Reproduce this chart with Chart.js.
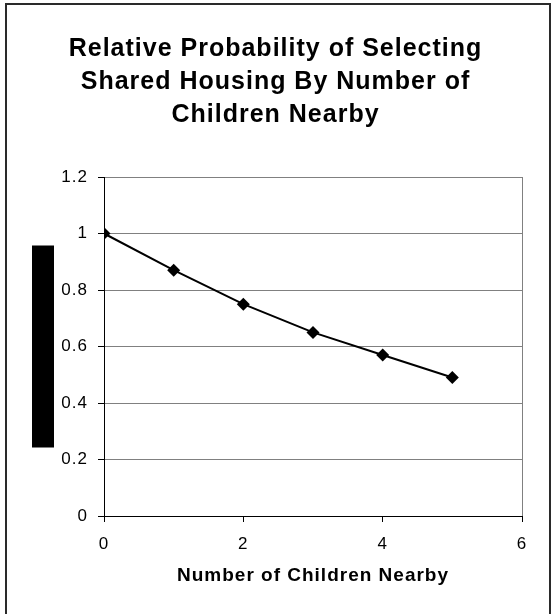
<!DOCTYPE html>
<html><head><meta charset="utf-8">
<script src="https://cdn.jsdelivr.net/npm/chart.js@4/dist/chart.umd.min.js"></script>
<style>html,body{margin:0;padding:0;background:#fff;} canvas{display:block;}</style>
</head><body>
<canvas id="c" width="551" height="614"></canvas>
<script>
// ---- data ----
const titleLines = ['Relative Probability of Selecting', 'Shared Housing By Number of', 'Children Nearby'];
const xAxisTitle = 'Number of Children Nearby';
const childrenNearby = [0, 1, 2, 3, 4, 5];
const relativeProbability = [1.0, 0.87, 0.75, 0.65, 0.57, 0.49];
const xTickValues = [0, 2, 4, 6];
const yTickValues = [0, 0.2, 0.4, 0.6, 0.8, 1, 1.2];
const yTickLabels = ['0', '0.2', '0.4', '0.6', '0.8', '1', '1.2'];

// ---- styling ----
const FONT = "'Liberation Sans', Arial, sans-serif";
const framePlugin = {
  id: 'frame',
  beforeLayout(chart) { chart.ctx.letterSpacing = '1px'; },
  beforeDraw(chart) {
    const ctx = chart.ctx;
    ctx.letterSpacing = '1px';
    ctx.save();
    ctx.fillStyle = '#fff';
    ctx.fillRect(0, 0, chart.width, chart.height);
    ctx.restore();
  },
  afterDraw(chart) {
    const ctx = chart.ctx, a = chart.chartArea;
    ctx.save();
    // plot-area right border
    ctx.strokeStyle = '#808080';
    ctx.lineWidth = 1;
    ctx.beginPath();
    ctx.moveTo(Math.round(a.right) + 0.5, a.top);
    ctx.lineTo(Math.round(a.right) + 0.5, a.bottom);
    ctx.stroke();
    // obscured y-axis title block
    const bw = 22, bh = 202, bx = 32;
    ctx.fillStyle = '#000';
    ctx.fillRect(bx, (a.top + a.bottom) / 2 - bh / 2, bw, bh);
    // outer chart frame
    ctx.strokeStyle = '#2a2a2a';
    ctx.lineWidth = 2;
    ctx.strokeRect(6, 4, chart.width - 7, chart.height + 20);
    ctx.restore();
  }
};

new Chart(document.getElementById('c'), {
  type: 'scatter',
  data: {
    datasets: [{
      data: childrenNearby.map((x, i) => ({ x: x, y: relativeProbability[i] })),
      showLine: true,
      borderColor: '#000',
      backgroundColor: '#000',
      borderWidth: 2,
      pointStyle: 'rectRot',
      pointRadius: 6.5,
      pointBorderWidth: 0,
      tension: 0
    }]
  },
  options: {
    responsive: false,
    animation: false,
    events: [],
    layout: { padding: 0 },
    plugins: {
      legend: { display: false },
      tooltip: { enabled: false },
      title: {
        display: true,
        text: titleLines,
        color: '#000',
        font: { family: FONT, size: 25, weight: 'bold', lineHeight: 1.32 },
        padding: { top: 32.5, bottom: 45.5 }
      }
    },
    scales: {
      x: {
        type: 'linear',
        min: 0, max: 6,
        afterBuildTicks(s) { s.ticks = xTickValues.map(v => ({ value: v })); },
        afterFit(s) { s.height = 98; },
        grid: { drawOnChartArea: false, drawTicks: true, tickLength: 6, tickColor: '#000' },
        border: { color: '#000', width: 1 },
        ticks: { color: '#000', padding: 12, font: { family: FONT, size: 17 }, maxRotation: 0 },
        title: {
          display: true, text: xAxisTitle, color: '#000',
          font: { family: FONT, size: 19, weight: 'bold', lineHeight: 1.2 },
          padding: { top: 0, bottom: 27 }
        }
      },
      y: {
        min: 0, max: 1.2,
        afterBuildTicks(s) { s.ticks = yTickValues.map(v => ({ value: v })); },
        afterFit(s) { s.width = 104; },
        grid: { color: '#808080', lineWidth: 1, drawTicks: true, tickLength: 6, tickColor: '#000' },
        border: { color: '#000', width: 1 },
        ticks: {
          color: '#000', padding: 10, font: { family: FONT, size: 17 },
          callback(v) { const i = yTickValues.findIndex(t => Math.abs(t - v) < 1e-9); return i >= 0 ? yTickLabels[i] : ''; }
        }
      },
      yRight: {
        position: 'right',
        min: 0, max: 1.2,
        afterFit(s) { s.width = 29; },
        grid: { display: false, drawOnChartArea: false },
        border: { display: false },
        ticks: { display: false }
      }
    }
  },
  plugins: [framePlugin]
});
</script>
</body></html>
